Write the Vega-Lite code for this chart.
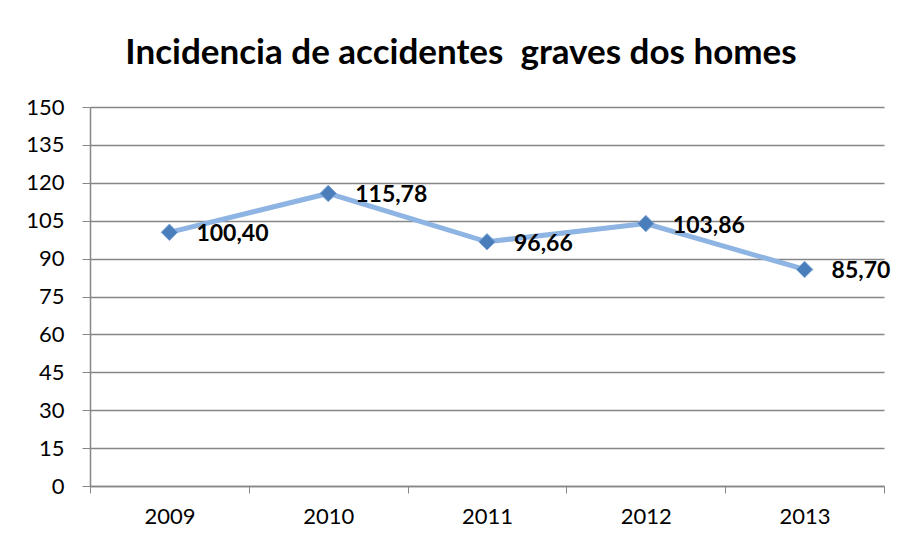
{
  "$schema": "https://vega.github.io/schema/vega-lite/v6.json",
  "autosize": "none",
  "width": 794,
  "height": 379,
  "padding": {"left": 90, "top": 107, "right": 19, "bottom": 59},
  "background": "white",
  "config": {
    "font": "Lato",
    "view": {"stroke": null},
    "axis": {"labelFont": "Lato", "labelColor": "#000000", "labelFontSize": 22, "domainColor": "#868686", "tickColor": "#868686", "gridColor": "#868686"}
  },
  "title": {
    "text": "Incidencia de accidentes\u00a0 graves dos homes",
    "font": "Lato",
    "fontSize": 35,
    "fontWeight": "bold",
    "color": "#000000",
    "anchor": "middle",
    "frame": "group",
    "dx": -26,
    "offset": 25
  },
  "data": {
    "values": [
      {"year": 2009, "value": 100.40, "label": "100,40"},
      {"year": 2010, "value": 115.78, "label": "115,78"},
      {"year": 2011, "value": 96.66, "label": "96,66"},
      {"year": 2012, "value": 103.86, "label": "103,86"},
      {"year": 2013, "value": 85.70, "label": "85,70"}
    ]
  },
  "encoding": {
    "x": {
      "field": "year",
      "type": "quantitative",
      "scale": {"domain": [2008.5, 2013.5], "nice": false, "zero": false},
      "axis": {
        "title": null,
        "grid": false,
        "values": [2008.5, 2009, 2009.5, 2010, 2010.5, 2011, 2011.5, 2012, 2012.5, 2013, 2013.5],
        "labelExpr": "datum.value % 1 === 0 ? '' + datum.value : ''",
        "tickOpacity": {"condition": {"test": "datum.value % 1 === 0", "value": 0}, "value": 1},
        "tickSize": 7,
        "labelPadding": 13,
        "domainWidth": 1.5
      }
    },
    "y": {
      "field": "value",
      "type": "quantitative",
      "scale": {"domain": [0, 150], "nice": false},
      "axis": {
        "title": null,
        "values": [0, 15, 30, 45, 60, 75, 90, 105, 120, 135, 150],
        "tickSize": 8,
        "labelPadding": 18,
        "gridWidth": 1.5,
        "domainWidth": 1.5
      }
    }
  },
  "layer": [
    {"mark": {"type": "line", "color": "#8DB4E2", "strokeWidth": 5}},
    {"mark": {"type": "point", "shape": "diamond", "size": 270, "filled": true, "fill": "#4A7EBB", "stroke": "#7DA7D9", "strokeWidth": 1, "opacity": 1}},
    {
      "mark": {"type": "text", "align": "left", "baseline": "middle", "dx": 27, "dy": 2, "fontSize": 23, "fontWeight": "bold", "font": "Lato", "color": "#000000"},
      "encoding": {"text": {"field": "label"}}
    }
  ]
}
